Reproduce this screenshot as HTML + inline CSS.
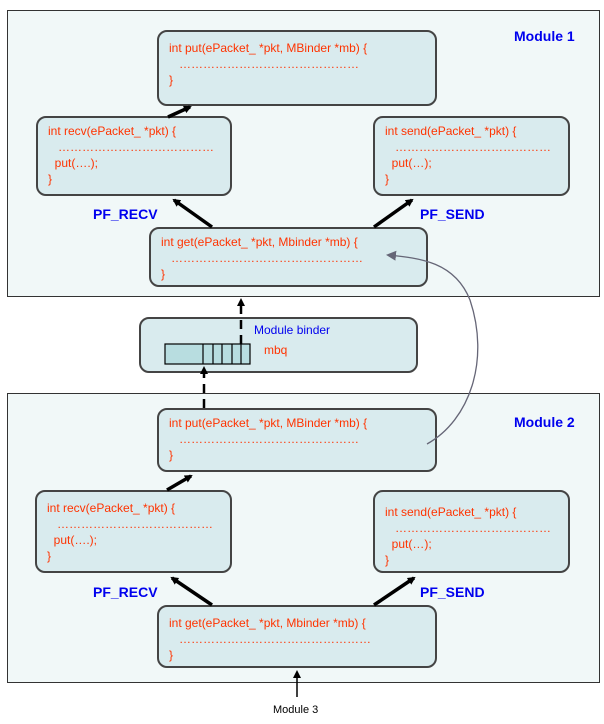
<!DOCTYPE html>
<html><head><style>
body{margin:0;width:604px;height:724px;background:#fff;overflow:hidden;position:relative;font-family:"Liberation Sans",sans-serif}
.mod{position:absolute;border:1.5px solid #333;background:#f1f8f8;box-sizing:border-box}
.b{position:absolute;border:2px solid #444;border-radius:10px;background:#d9ebee;box-sizing:border-box;color:#ff3300;font-size:12px;line-height:16px;padding:5px 0 0 10px;white-space:pre}
.lbl{position:absolute;color:#0000ee;font-weight:bold;font-size:14px}
svg{position:absolute;left:0;top:0}
</style></head><body>
<div class="mod" style="left:7px;top:10px;width:593px;height:287px"></div>
<div class="mod" style="left:7px;top:393px;width:593px;height:290px"></div>
<div class="b" style="left:157px;top:30px;width:280px;height:76px;padding-top:8px">int put(ePacket_ *pkt, MBinder *mb) {
   ………………………………………
}</div>
<div class="b" style="left:36px;top:116px;width:196px;height:80px">int recv(ePacket_ *pkt) {
   …………………………………
  put(….);
}</div>
<div class="b" style="left:373px;top:116px;width:197px;height:80px">int send(ePacket_ *pkt) {
   …………………………………
  put(…);
}</div>
<div class="b" style="left:149px;top:227px;width:279px;height:60px">int get(ePacket_ *pkt, Mbinder *mb) {
   …………………………………………
}</div>
<div class="lbl" style="left:514px;top:28px">Module 1</div>
<div class="lbl" style="left:93px;top:206px">PF_RECV</div>
<div class="lbl" style="left:420px;top:206px">PF_SEND</div>

<div class="b" style="left:139px;top:317px;width:279px;height:56px;padding:0"></div>
<div style="position:absolute;left:254px;top:323px;color:#0000ee;font-size:12px">Module binder</div>
<div style="position:absolute;left:264px;top:343px;color:#ff3300;font-size:12px">mbq</div>

<div class="b" style="left:157px;top:408px;width:280px;height:64px">int put(ePacket_ *pkt, MBinder *mb) {
   ………………………………………
}</div>
<div class="b" style="left:35px;top:490px;width:197px;height:83px;padding-top:8px">int recv(ePacket_ *pkt) {
   …………………………………
  put(….);
}</div>
<div class="b" style="left:373px;top:490px;width:197px;height:83px;padding-top:12px">int send(ePacket_ *pkt) {
   …………………………………
  put(…);
}</div>
<div class="b" style="left:157px;top:605px;width:280px;height:63px;padding-top:8px">int get(ePacket_ *pkt, Mbinder *mb) {
   …………………………………………
}</div>
<div class="lbl" style="left:514px;top:414px">Module 2</div>
<div class="lbl" style="left:93px;top:584px">PF_RECV</div>
<div class="lbl" style="left:420px;top:584px">PF_SEND</div>
<div style="position:absolute;left:273px;top:704px;font-size:11px;color:#000">Module 3</div>

<svg width="604" height="724">
<defs>
<marker id="a" markerWidth="8" markerHeight="8" refX="6" refY="4" orient="auto" markerUnits="userSpaceOnUse"><path d="M0,0L8,4L0,8z" fill="#000"/></marker>
<marker id="g" markerWidth="10" markerHeight="10" refX="8" refY="5" orient="auto" markerUnits="userSpaceOnUse"><path d="M0,0L10,5L0,10z" fill="#667"/></marker>
</defs>
<rect x="165" y="344" width="85" height="20" fill="#b8dde0" stroke="#000" stroke-width="1.2"/>
<g stroke="#000" stroke-width="1.2"><line x1="203" y1="344" x2="203" y2="364"/><line x1="213" y1="344" x2="213" y2="364"/><line x1="222" y1="344" x2="222" y2="364"/><line x1="232" y1="344" x2="232" y2="364"/><line x1="241" y1="344" x2="241" y2="364"/></g>
<g stroke="#000" stroke-width="3.5" marker-end="url(#a)">
<line x1="168" y1="117" x2="190" y2="107"/>
<line x1="212" y1="227" x2="174" y2="200"/>
<line x1="374" y1="227" x2="412" y2="200"/>
<line x1="167" y1="490" x2="191" y2="476"/>
<line x1="212" y1="605" x2="172" y2="578"/>
<line x1="374" y1="605" x2="414" y2="578"/>
</g>
<g stroke="#000" stroke-width="2.5" stroke-dasharray="9,6" marker-end="url(#a)">
<line x1="204" y1="408" x2="204" y2="368"/>
<line x1="241" y1="344" x2="241" y2="300"/>
</g>
<line x1="297" y1="697" x2="297" y2="672" stroke="#000" stroke-width="1.5" marker-end="url(#a)"/>
<path d="M427,444 C470,420 490,360 470,300 C455,262 420,258 388,255" fill="none" stroke="#667" stroke-width="1.3" marker-end="url(#g)"/>
</svg>
</body></html>
